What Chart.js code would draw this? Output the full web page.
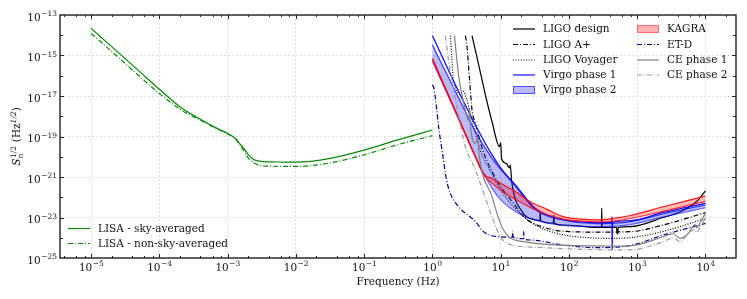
<!DOCTYPE html>
<html>
<head>
<meta charset="utf-8">
<script src="https://cdn.jsdelivr.net/npm/chart.js@4.4.1/dist/chart.umd.min.js"></script>
<style>
  html, body { margin: 0; padding: 0; background: #fff; }
  #wrap { width: 747px; height: 299px; }
</style>
</head>
<body>
<div id="wrap"><canvas id="noise-chart" width="747" height="299"></canvas></div>
<script>
// axis ranges and tick labels (exponents of 10)
const xMin = 3.5e-6, xMax = 2.8e4, yMin = 1e-25, yMax = 1e-13;
const xTickExp = [-5, -4, -3, -2, -1, 0, 1, 2, 3, 4];
const yTickExp = [-13, -15, -17, -19, -21, -23, -25];

// LISA
const lisaF = [1e-5, 2e-5, 5e-5, 1e-4, 2e-4, 4e-4, 7e-4, 1e-3, 1.3e-3, 1.5e-3, 1.8e-3, 2.0e-3, 2.4e-3, 2.8e-3, 3.3e-3, 5e-3, 1e-2, 3.2e-2, 0.1, 0.33, 1];
const lisaSky = [2.19e-14, 2.75e-15, 1.74e-16, 2.14e-17, 2.95e-18, 7.08e-19, 2.51e-19, 1.41e-19, 8.13e-20, 4.47e-20, 2.14e-20, 1.32e-20, 7.41e-21, 6.31e-21, 5.75e-21, 5.5e-21, 5.37e-21, 8.32e-21, 2.14e-20, 7.24e-20, 2.09e-19];
const lisaNsa = [1.23e-14, 1.58e-15, 1.0e-16, 1.32e-17, 2.24e-18, 6.31e-19, 2.4e-19, 1.35e-19, 7.59e-20, 3.98e-20, 1.58e-20, 8.91e-21, 5.01e-21, 3.98e-21, 3.55e-21, 3.39e-21, 3.31e-21, 5.01e-21, 1.26e-20, 4.17e-20, 1.1e-19];

// LIGO design
const ligoF = [3.8, 4.77, 5.97, 7.47, 9.6, 10.0, 10.3, 12, 13.5, 13.8, 14.5, 20.6, 32, 37.5, 38, 38.5, 59, 60, 61, 83, 257, 300, 302, 305, 500, 505, 520, 525, 794, 2400, 4270, 7500, 10000];
const ligoS = [9.55e-15, 3.39e-16, 1.12e-17, 5.37e-19, 3.16e-20, 5.01e-20, 7.94e-21, 4.68e-21, 2.82e-21, 3.89e-21, 5.89e-22, 1.95e-23, 7.59e-24, 7.08e-24, 1.95e-23, 6.92e-24, 5.25e-24, 1.32e-23, 5.13e-24, 4.27e-24, 3.24e-24, 3.24e-24, 2.95e-23, 3.24e-24, 3.24e-24, 1.58e-24, 1.58e-24, 3.24e-24, 3.55e-24, 1e-23, 1.91e-23, 6.31e-23, 2.09e-22];

// LIGO A+
const aplusF = [3.04, 3.2, 3.5, 3.8, 4.26, 5.5, 7.5, 10.4, 14.6, 23, 40, 83, 257, 794, 2400, 10000];
const aplusS = [9.55e-15, 3.16e-15, 6.31e-17, 2.04e-18, 4.47e-19, 2.0e-20, 1.82e-21, 2.75e-22, 6.31e-23, 9.12e-24, 3.55e-24, 2.09e-24, 1.91e-24, 2.0e-24, 4.27e-24, 1.74e-23];

// LIGO Voyager
const voyF = [1.84, 2.0, 2.2, 2.5, 2.8, 3.2, 3.6, 4.25, 5.3, 6.7, 9.35, 14.6, 32, 70, 200, 500, 1000, 3000, 10000];
const voyS = [9.55e-15, 1.0e-16, 2.51e-17, 1.26e-17, 1.78e-17, 6.31e-18, 1.26e-18, 1.58e-19, 1.26e-20, 2.69e-21, 3.31e-22, 4.17e-23, 4.27e-24, 1.58e-24, 1e-24, 9.33e-25, 1.12e-24, 2.51e-24, 9.12e-24];

// Virgo phase 1
const virgo1F = [1, 2.43, 4.26, 7.47, 10.5, 16.4, 32, 83, 257, 420, 427, 430, 435, 794, 2400, 10000];
const virgo1S = [9.55e-15, 1.62e-17, 3.72e-19, 1.23e-20, 2.24e-21, 4.07e-22, 2.82e-23, 7.94e-24, 5.62e-24, 5.75e-24, 1.1e-23, 2.51e-25, 5.75e-24, 7.08e-24, 1.78e-23, 5.01e-23];

// Virgo phase 2 (band)
const virgo2F = [1, 2.43, 4.26, 7.47, 10.5, 16.4, 32, 88, 257, 794, 2400, 10000];
const virgo2Hi = [3.31e-15, 7.94e-18, 1.74e-19, 8.32e-21, 2.0e-21, 3.55e-22, 2.51e-23, 7.08e-24, 5.01e-24, 6.31e-24, 1.51e-23, 4.17e-23];
const virgo2Lo = [5.01e-16, 7.08e-19, 1e-20, 2.75e-22, 6.31e-23, 2.0e-23, 7.59e-24, 3.98e-24, 3.55e-24, 4.47e-24, 1.07e-23, 3.02e-23];

// KAGRA (band)
const kagraF = [1, 2.43, 4.26, 5.64, 7.47, 10.5, 16.4, 27, 48, 83, 150, 257, 500, 794, 2400, 10000];
const kagraHi = [7.24e-16, 7.94e-19, 1.05e-20, 1.41e-21, 8.51e-22, 4.47e-22, 1.91e-22, 6.03e-23, 2.51e-23, 1.1e-23, 8.32e-24, 7.59e-24, 9.55e-24, 1.26e-23, 3.39e-23, 1.15e-22];
const kagraLo = [6.31e-16, 7.08e-19, 9.33e-21, 1.26e-21, 5.01e-22, 2.0e-22, 7.94e-23, 3.16e-23, 1.41e-23, 8.32e-24, 6.61e-24, 6.03e-24, 6.92e-24, 8.91e-24, 2.0e-23, 6.31e-23];

// ET-D
const etF = [1.0, 1.05, 1.15, 1.24, 1.4, 1.6, 1.8, 2.4, 4.26, 5.6, 7.5, 10, 14.8, 15, 15.2, 21.5, 21.7, 22, 27, 83, 257, 794, 2400, 10000];
const etS = [3.47e-17, 2.51e-17, 2.51e-18, 2.51e-19, 1.58e-20, 7.94e-22, 1.78e-22, 3.55e-23, 6.31e-24, 2.0e-24, 1.26e-24, 1.12e-24, 1.07e-24, 2.14e-24, 1.07e-24, 8.91e-25, 2.0e-24, 8.91e-25, 7.76e-25, 4.37e-25, 3.24e-25, 4.17e-25, 1.35e-24, 5.13e-24];

// CE phase 1
const ce1F = [2.1, 2.43, 2.9, 3.4, 3.5, 3.6, 4.26, 4.6, 4.8, 7.46, 9.9, 13.1, 23, 100, 500, 1000, 2400, 3400, 4270, 5600, 7000, 7500, 8500, 10000];
const ce1S = [9.55e-15, 8.91e-17, 3.98e-18, 6.31e-19, 2.51e-18, 3.98e-19, 4.57e-20, 1e-19, 1.58e-20, 1.07e-22, 5.13e-24, 1.12e-24, 6.31e-25, 4.17e-25, 3.89e-25, 4.47e-25, 1.12e-24, 1.58e-24, 9.33e-25, 1.62e-24, 4.47e-24, 3.16e-24, 6.31e-24, 1.58e-23];

// CE phase 2
const ce2F = [1.55, 1.73, 2.17, 2.6, 3.04, 4.26, 7.46, 9.9, 14.6, 32, 100, 500, 794, 2400, 3400, 4270, 5600, 7000, 7500, 8500, 10000];
const ce2S = [9.55e-15, 5.01e-16, 7.94e-18, 3.16e-19, 3.16e-20, 2.24e-21, 1.1e-23, 1.12e-24, 4.37e-25, 3.39e-25, 2.82e-25, 2.51e-25, 2.51e-25, 6.31e-25, 1e-24, 6.31e-25, 1.66e-24, 2.51e-24, 1.78e-24, 3.98e-24, 9.12e-24];

const SERIF = '"DejaVu Serif", serif';
const DASHDOT = [5, 2, 1, 2];
const DOTTED = [1, 1.6];

const pts = (f, s) => f.map((v, i) => ({ x: v, y: s[i] }));

function line(label, f, s, color, dash, width) {
  return {
    label, data: pts(f, s), borderColor: color, borderDash: dash || [],
    borderWidth: width || 1.2, fill: false, pointRadius: 0,
    cubicInterpolationMode: 'monotone'
  };
}

const datasets = [
  line('LISA - sky-averaged', lisaF, lisaSky, '#0a870a'),
  line('LISA - non-sky-averaged', lisaF, lisaNsa, '#0a870a', DASHDOT),
  line('LIGO design', ligoF, ligoS, '#000'),
  line('LIGO A+', aplusF, aplusS, '#000', DASHDOT),
  line('LIGO Voyager', voyF, voyS, '#000', DOTTED),
  line('Virgo phase 1', virgo1F, virgo1S, '#1010ff', [], 1.3),
  Object.assign(line('Virgo phase 2', virgo2F, virgo2Hi, 'rgba(0,0,255,0.75)'), { fill: '+1', backgroundColor: 'rgba(40,40,255,0.32)' }),
  line('Virgo phase 2 low', virgo2F, virgo2Lo, 'rgba(0,0,255,0.55)'),
  Object.assign(line('KAGRA', kagraF, kagraHi, 'rgba(255,0,0,0.9)'), { fill: '+1', backgroundColor: 'rgba(255,0,0,0.28)' }),
  line('KAGRA low', kagraF, kagraLo, 'rgba(255,0,0,0.8)'),
  line('ET-D', etF, etS, '#00008b', DASHDOT),
  line('CE phase 1', ce1F, ce1S, '#808080'),
  line('CE phase 2', ce2F, ce2S, '#9a9a9a', DASHDOT)
];
datasets.forEach((d, i) => { d.order = datasets.length - i; });

const legendMain = [
  { label: 'LIGO design', color: '#000', dash: [], x: 513, y: 29 },
  { label: 'LIGO A+', color: '#000', dash: DASHDOT, x: 513, y: 44.5 },
  { label: 'LIGO Voyager', color: '#000', dash: DOTTED, x: 513, y: 60 },
  { label: 'Virgo phase 1', color: '#1010ff', dash: [], x: 513, y: 75 },
  { label: 'Virgo phase 2', patch: 'rgba(40,40,255,0.32)', color: 'rgba(0,0,255,0.6)', x: 513, y: 90 },
  { label: 'KAGRA', patch: 'rgba(255,0,0,0.3)', color: 'rgba(255,0,0,0.35)', x: 637, y: 29 },
  { label: 'ET-D', color: '#00008b', dash: DASHDOT, x: 637, y: 44.5 },
  { label: 'CE phase 1', color: '#808080', dash: [], x: 637, y: 60 },
  { label: 'CE phase 2', color: '#9a9a9a', dash: DASHDOT, x: 637, y: 75 },
  { label: 'LISA - sky-averaged', color: '#0a870a', dash: [], x: 68, y: 228.5 },
  { label: 'LISA - non-sky-averaged', color: '#0a870a', dash: DASHDOT, x: 68, y: 243.5 }
];

const decor = {
  id: 'decor',
  afterDraw(chart) {
    const { ctx, chartArea: a, scales: { x, y } } = chart;
    ctx.save();

    // inward ticks on all four sides
    ctx.strokeStyle = '#222';
    ctx.lineWidth = 1;
    ctx.setLineDash([]);
    const seg = (x0, y0, x1, y1) => { ctx.beginPath(); ctx.moveTo(x0, y0); ctx.lineTo(x1, y1); ctx.stroke(); };
    for (let e = -6; e <= 4; e++) {
      for (let m = 1; m < 10; m++) {
        if (m !== 1 && m % 2) continue;
        const v = m * Math.pow(10, e);
        if (v <= xMin || v >= xMax) continue;
        const px = Math.round(x.getPixelForValue(v)) + 0.5;
        const len = m === 1 ? 4 : 2;
        seg(px, a.bottom, px, a.bottom - len);
        seg(px, a.top, px, a.top + len);
      }
    }
    for (let e = -24; e <= -14; e++) {
      const py = Math.round(y.getPixelForValue(Math.pow(10, e))) + 0.5;
      const len = (e % 2) ? 4 : 3;
      seg(a.left, py, a.left + len, py);
      seg(a.right, py, a.right - len, py);
    }

    // frame
    ctx.strokeStyle = '#222';
    ctx.lineWidth = 1.4;
    ctx.strokeRect(a.left, a.top, a.right - a.left, a.bottom - a.top);

    // tick labels
    ctx.fillStyle = '#111';
    ctx.textBaseline = 'alphabetic';
    const baseFont = '10.5px ' + SERIF, expFont = '7.5px ' + SERIF;
    xTickExp.forEach(e => {
      const px = x.getPixelForValue(Math.pow(10, e));
      const expTxt = e < 0 ? '\u2212' + (-e) : String(e);
      ctx.font = baseFont; const w1 = ctx.measureText('10').width;
      ctx.font = expFont; const w2 = ctx.measureText(expTxt).width;
      const x0 = px - (w1 + w2) / 2;
      ctx.textAlign = 'left';
      ctx.font = baseFont; ctx.fillText('10', x0, 271);
      ctx.font = expFont; ctx.fillText(expTxt, x0 + w1 + 0.5, 266);
    });
    yTickExp.forEach(e => {
      const py = y.getPixelForValue(Math.pow(10, e));
      const expTxt = '\u2212' + (-e);
      ctx.font = expFont; const w2 = ctx.measureText(expTxt).width;
      ctx.textAlign = 'right';
      ctx.fillText(expTxt, 57, py + 1);
      ctx.font = baseFont; ctx.fillText('10', 57 - w2 - 0.5, py + 5.5);
    });

    // x axis title
    ctx.font = baseFont;
    ctx.textAlign = 'center';
    ctx.fillText('Frequency (Hz)', (a.left + a.right) / 2, 285);

    // y axis title: S_n^{1/2} (Hz^{1/2})
    ctx.save();
    ctx.translate(20, (a.top + a.bottom) / 2);
    ctx.rotate(-Math.PI / 2);
    ctx.textAlign = 'left';
    const big = '10.5px ' + SERIF, bigI = 'italic 10.5px ' + SERIF;
    const sm = '7.5px ' + SERIF, smI = 'italic 7.5px ' + SERIF;
    const meas = (t, f) => { ctx.font = f; return ctx.measureText(t).width; };
    const wS = meas('S', bigI), wn = meas('n', smI), wh = meas('1/2', sm);
    const wRest = meas(' (Hz', big), wh2 = meas('1/2', smI), wp = meas(')', big);
    const total = wS + Math.max(wn, wh) + 1 + wRest + wh2 + wp;
    let cx = -total / 2;
    ctx.font = bigI; ctx.fillText('S', cx, 0); cx += wS;
    ctx.font = smI; ctx.fillText('n', cx, 2.5);
    ctx.font = sm; ctx.fillText('1/2', cx + 0.5, -4.5); cx += Math.max(wn, wh) + 1;
    ctx.font = big; ctx.fillText(' (Hz', cx, 0); cx += wRest;
    ctx.font = smI; ctx.fillText('1/2', cx, -4.5); cx += wh2;
    ctx.font = big; ctx.fillText(')', cx, 0);
    ctx.restore();

    // legends
    ctx.textAlign = 'left';
    ctx.textBaseline = 'middle';
    legendMain.forEach(it => {
      if (it.patch) {
        ctx.fillStyle = it.patch;
        ctx.fillRect(it.x, it.y - 4, 22, 8);
        ctx.strokeStyle = it.color;
        ctx.lineWidth = 1;
        ctx.setLineDash([]);
        ctx.strokeRect(it.x + 0.5, it.y - 3.5, 21, 7);
      } else {
        ctx.strokeStyle = it.color;
        ctx.lineWidth = 1.2;
        ctx.setLineDash(it.dash);
        seg(it.x, it.y, it.x + 22, it.y);
        ctx.setLineDash([]);
      }
      ctx.fillStyle = '#111';
      ctx.font = baseFont;
      ctx.fillText(it.label, it.x + 30, it.y + 0.5);
    });

    ctx.restore();
  }
};

new Chart(document.getElementById('noise-chart'), {
  type: 'line',
  data: { datasets },
  options: {
    responsive: false,
    animation: false,
    devicePixelRatio: 1,
    layout: { padding: { top: 15, right: 11, left: 0, bottom: 0 } },
    plugins: { legend: { display: false }, tooltip: { enabled: false } },
    elements: { point: { radius: 0 } },
    scales: {
      x: {
        type: 'logarithmic', min: xMin, max: xMax,
        afterBuildTicks: s => { s.ticks = xTickExp.map(e => ({ value: Math.pow(10, e) })); },
        afterFit: s => { s.height = 41; },
        ticks: { display: false },
        grid: { color: '#d6d6d6', lineWidth: 0.8, drawTicks: false },
        border: { display: false, dash: [2, 2] }
      },
      y: {
        type: 'logarithmic', min: yMin, max: yMax,
        afterBuildTicks: s => { s.ticks = yTickExp.map(e => ({ value: Math.pow(10, e) })); },
        afterFit: s => { s.width = 60; },
        ticks: { display: false },
        grid: { color: '#d6d6d6', lineWidth: 0.8, drawTicks: false },
        border: { display: false, dash: [2, 2] }
      }
    }
  },
  plugins: [decor]
});
</script>
</body>
</html>
